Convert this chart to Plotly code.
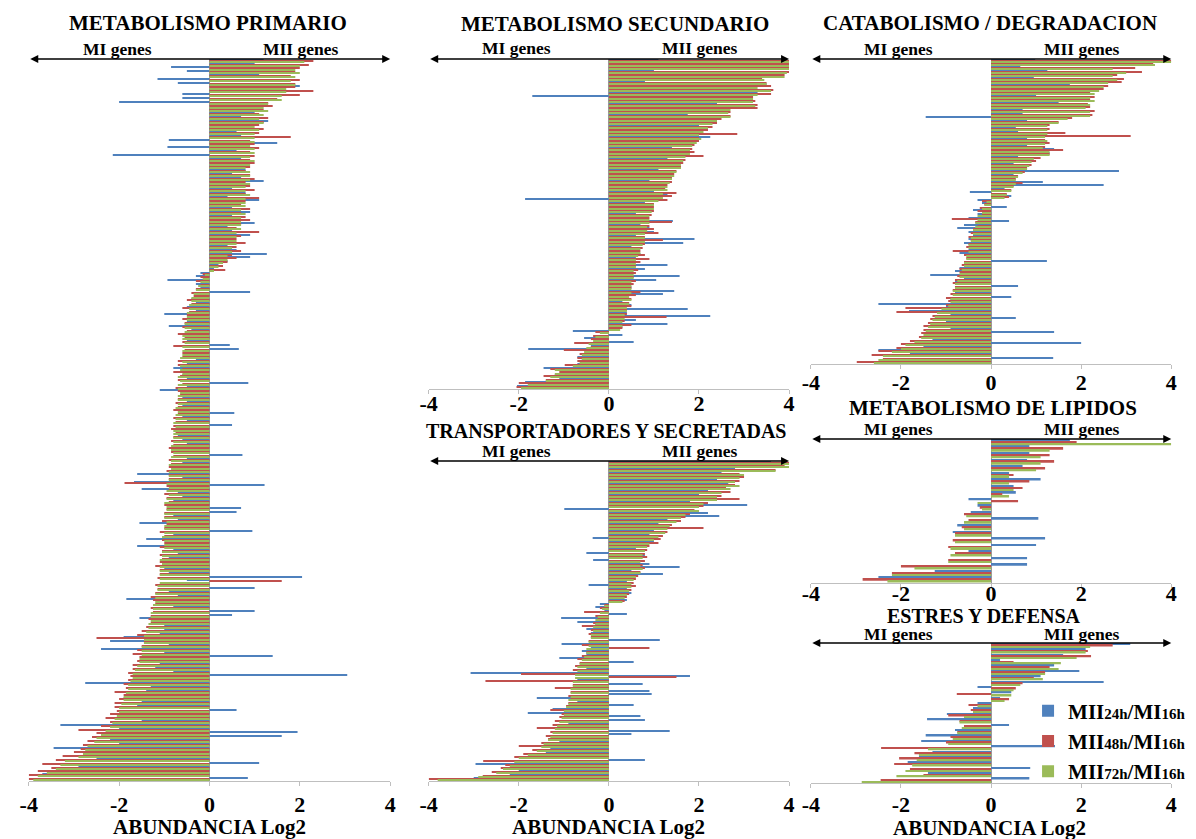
import plotly.graph_objects as go

W, H = 1196, 839
FONT = "Liberation Serif"
BLUE, RED, GREEN = "#4F81BD", "#C0504D", "#9BBB59"

SERIES = [
    "MII<span style='font-size:15px'>24h</span>/MI<span style='font-size:15px'>16h</span>",
    "MII<span style='font-size:15px'>48h</span>/MI<span style='font-size:15px'>16h</span>",
    "MII<span style='font-size:15px'>72h</span>/MI<span style='font-size:15px'>16h</span>",
]
TICK_VALS = [-4, -2, 0, 2, 4]
TICK_TEXT = ["-4", "-2", "0", "2", "4"]
AXIS_TITLE = "ABUNDANCIA Log2"
LEFT_LABEL, RIGHT_LABEL = "MI genes", "MII genes"

# ---------------- METABOLISMO PRIMARIO ----------------
prim_blue = [1.2, 1.0, -0.85, -0.5, 1.1, -1.15, -0.7, 2.0, 1.4, -0.6,
             -0.6, -2.0, 0.9, 0.8, 1.0, 0.7, 1.3, 0.8, 0.9, 0.6,
             0.7, -0.9, 1.5, -0.93, 0.6, -2.14, 0.7, 0.5, 0.6, 0.8,
             0.5, 0.7, 1.2, 0.6, 0.5, 0.8, 0.4, 1.1, 0.6, 0.5,
             0.9, 0.5, 0.6, 1.0, 0.4, 0.5, 0.9, 0.3, 0.5, 0.4,
             0.6, 1.27, 0.9, 0.4, 0.2, 0.1, -0.2, -0.3, -0.93, -0.3,
             -0.2, 0.9, -0.3, -0.4, -0.3, -0.5, -0.3, -1.0, -0.4, -0.5,
             -0.9, -0.4, -0.5, -0.3, -0.5, 0.45, 0.65, -0.4, -0.5, -0.3,
             -0.5, -0.8, -0.4, -0.6, -0.5, 0.86, -0.5, -1.1, -0.4, -0.6,
             -0.5, -0.6, -0.4, 0.55, -0.6, -0.5, 0.5, -0.6, -0.5, -0.7,
             -0.6, -0.5, -0.7, -0.6, 0.73, -0.5, -0.6, -0.7, -0.5, -1.6,
             -0.6, -1.67, 1.22, -1.5, -0.7, -0.6, -0.8, -0.7, 0.7, 0.6,
             -0.8, -0.7, -1.55, -0.6, 0.95, -0.8, -1.4, -0.7, -1.6, -0.8,
             -0.7, -0.9, -0.8, -0.6, -1.0, -0.9, 2.05, -0.5, -0.8, 1.0,
             -0.9, -0.7, -1.84, -1.0, -0.8, 1.0, 0.5, -1.55, -0.9, -1.0,
             -1.0, -1.1, -1.9, -2.2, -0.9, -2.4, -1.0, 1.4, -0.9, -1.1,
             -1.2, -0.8, 3.05, -1.4, -2.75, -1.3, -1.4, -1.6, -1.9, -1.5,
             -1.6, 0.6, -1.7, -1.8, -1.5, -3.3, -2.0, 1.95, 1.6, -2.2,
             -2.0, -3.45, -2.1, -1.8, -2.5, 1.1, -2.9, -1.7, -3.7, 0.85]
prim_red = [2.3, 2.2, 2.0, 1.9, 1.8, 2.0, 1.9, 1.9, 2.3, 2.0,
            1.5, 1.3, 1.4, 1.2, 1.1, 1.3, 1.2, 1.1, 1.2, 1.1,
            1.8, 0.9, 1.0, 1.1, 0.9, 1.0, 0.9, 1.0, 0.9, 0.8,
            0.9, 1.0, 0.8, 0.9, 1.0, 0.8, 1.1, 0.8, 0.7, 0.9,
            0.7, 0.8, 0.9, 0.7, 0.6, 1.1, 0.7, 0.6, 0.8, 0.6,
            0.7, 0.5, 0.6, 0.4, 0.3, 0.35, -0.15, -0.2, -0.3, -0.2,
            -0.3, -0.4, -0.35, -0.5, -0.4, -0.6, -0.45, -0.5, -0.6, -0.55,
            -0.6, -0.5, -0.7, -0.55, -0.6, -0.8, -0.55, -0.6, -0.6, -0.7,
            -0.7, -0.6, -0.8, -0.65, -0.7, -0.6, -0.75, -0.7, -0.65, -0.7,
            -0.75, -0.7, -0.8, -0.7, -0.8, -0.75, -0.8, -0.85, -0.75, -0.8,
            -0.85, -0.8, -0.9, -0.85, -0.8, -0.9, -0.85, -0.9, -0.95, -0.9,
            -0.9, -1.88, -0.95, -0.9, -1.0, -0.95, -0.9, -1.0, -0.95, -1.0,
            -1.0, -1.05, -0.95, -1.0, -1.1, -1.0, -1.05, -1.0, -1.1, -1.05,
            -1.1, -1.05, -1.1, -1.2, -1.1, -1.1, -1.15, 1.6, -1.2, -1.15,
            -1.2, -1.3, -1.25, -1.2, -1.3, -1.25, -1.3, -1.35, -1.3, -1.4,
            -1.5, -1.6, -2.5, -1.45, -1.5, -1.6, -1.7, -1.55, -1.6, -1.7,
            -1.7, -1.8, -1.75, -1.8, -1.9, -1.85, -2.1, -1.9, -2.0, -2.1,
            -2.1, -2.05, -2.2, -2.3, -2.2, -2.4, -2.9, -2.5, -2.6, -2.7,
            -2.8, -2.85, -3.0, -3.25, -3.4, -3.7, -3.5, -3.8, -4.0, -4.0]
prim_green = [2.1, 2.0, 1.9, 2.0, 1.9, 1.8, 1.9, 1.7, 1.7, 1.6,
              1.6, 1.3, 1.2, 1.3, 1.2, 1.1, 1.2, 1.0, 1.1, 1.0,
              1.0, 1.0, 0.9, 1.0, 1.0, 0.9, 1.0, 0.9, 0.8, 0.9,
              0.9, 0.9, 0.9, 0.8, 0.8, 0.9, 0.8, 0.8, 0.8, 0.7,
              0.8, 0.7, 0.7, 0.7, 0.7, 0.6, 0.6, 0.6, 0.6, 0.5,
              0.5, 0.4, 0.4, 0.3, 0.2, 0.1, -0.1, -0.15, -0.2, -0.25,
              -0.3, -0.35, -0.4, -0.4, -0.45, -0.45, -0.5, -0.5, -0.5, -0.55,
              -0.55, -0.55, -0.6, -0.6, -0.55, -0.6, -0.6, -0.6, -0.65, -0.6,
              -0.65, -0.65, -0.6, -0.7, -0.65, -0.7, -0.7, -0.65, -0.7, -0.7,
              -0.7, -0.75, -0.7, -0.75, -0.75, -0.8, -0.75, -0.8, -0.8, -0.8,
              -0.8, -0.85, -0.85, -0.8, -0.85, -0.85, -0.9, -0.85, -0.9, -0.9,
              -0.9, -0.95, -0.9, -0.95, -0.9, -0.95, -1.0, -0.95, -0.95, -1.0,
              -1.0, -0.95, -1.0, -1.0, -1.0, -1.05, -1.0, -1.0, -1.0, -1.05,
              -1.05, -1.1, -1.05, -1.1, -1.1, -1.1, -1.1, -1.1, -1.15, -1.15,
              -1.2, -1.2, -1.2, -1.25, -1.25, -1.3, -1.3, -1.3, -1.35, -1.35,
              -1.4, -1.45, -1.45, -1.45, -1.5, -1.5, -1.5, -1.55, -1.55, -1.6,
              -1.65, -1.7, -1.7, -1.75, -1.8, -1.8, -1.85, -1.9, -1.9, -1.95,
              -2.0, -2.0, -2.05, -2.1, -2.15, -2.2, -2.3, -2.4, -2.5, -2.55,
              -2.7, -2.75, -2.8, -2.9, -3.2, -3.3, -3.4, -3.6, -3.8, -3.9]

# ---------------- METABOLISMO SECUNDARIO ----------------
sec_blue = [1.1, 3.8, 4.0, 1.0, 1.0, 2.9, 0.8, 3.5, 2.8, 3.3,
            -1.7, 2.1, 2.4, 2.3, 1.5, 1.75, 1.9, 1.6, 2.0, 1.5,
            1.9, 2.25, 1.4, 1.3, 1.4, 1.2, 1.3, 1.3, 1.2, 1.2,
            1.1, 1.0, 1.2, 0.9, 1.0, 1.1, 1.0, 1.3, -1.86, 0.8,
            0.8, 0.7, 0.6, 0.35, 1.42, 0.7, 0.9, 1.0, 0.6, 1.9,
            1.65, 0.5, 0.6, 0.7, 0.6, 0.5, 1.3, 0.8, 0.5, 1.57,
            1.05, 0.4, 0.5, 1.45, 1.2, 0.4, 0.3, 0.5, 1.75, 0.4,
            2.25, 0.6, 1.3, 0.3, -0.8, 0.3, -0.55, 0.55, -0.4, -1.79,
            -0.5, -0.7, -0.6, -0.7, -1.45, -0.9, -1.2, -1.1, -1.86, -2.04]
sec_red = [4.0, 4.0, 4.0, 4.0, 3.9, 3.4, 3.5, 3.6, 3.65, 3.6,
           3.2, 3.25, 3.3, 3.3, 2.7, 2.7, 2.5, 2.4, 2.3, 2.2,
           2.85, 2.0, 2.0, 1.9, 1.85, 1.9, 2.1, 1.7, 1.65, 1.6,
           1.5, 1.45, 1.4, 1.4, 1.3, 1.25, 1.5, 1.4, 1.3, 1.0,
           1.0, 1.0, 0.95, 0.9, 1.4, 0.9, 1.0, 1.1, 0.8, 1.2,
           0.8, 0.75, 0.7, 0.8, 0.9, 0.7, 0.6, 0.65, 0.6, 0.55,
           0.6, 0.55, 0.5, 0.7, 0.6, 0.5, 0.45, 0.5, 0.4, 0.4,
           1.28, 0.35, 0.5, 0.3, -0.3, -0.35, -0.4, -0.77, -0.4, -1.0,
           -0.65, -0.7, -0.7, -0.98, -1.3, -1.1, -1.45, -1.4, -2.0, -2.05]
sec_green = [4.0, 4.0, 4.0, 3.95, 3.9, 3.45, 3.5, 3.3, 3.6, 3.3,
             3.2, 3.2, 3.25, 2.7, 2.65, 2.7, 2.4, 2.3, 2.2, 2.1,
             2.0, 2.05, 1.95, 1.85, 1.8, 1.8, 1.7, 1.65, 1.6, 1.6,
             1.5, 1.45, 1.4, 1.35, 1.3, 1.3, 1.2, 1.2, 1.1, 1.0,
             1.0, 0.95, 0.9, 0.9, 0.9, 0.85, 0.85, 0.8, 0.8, 0.8,
             0.75, 0.7, 0.7, 0.65, 0.6, 0.6, 0.6, 0.55, 0.55, 0.55,
             0.5, 0.5, 0.5, 0.5, 0.45, 0.5, 0.45, 0.4, 0.4, 0.35,
             0.35, 0.3, 0.3, 0.25, -0.2, -0.3, -0.35, -0.45, -0.5, -0.55,
             -0.6, -0.6, -0.65, -0.8, -1.2, -1.2, -1.3, -1.4, -1.8, -1.95]

# ---------------- TRANSPORTADORES Y SECRETADAS ----------------
tra_blue = [3.6, 3.1, 2.8, 2.5, 2.7, 2.4, 2.65, 2.3, 2.2, 2.0,
            2.0, 1.8, 3.07, -0.99, 2.2, 2.45, 1.3, 1.1, 1.2, 1.0,
            0.9, -0.36, 1.0, 0.7, 0.6, -0.5, 0.8, -0.35, 0.9, 1.57,
            0.5, 1.2, 0.5, 0.4, -0.45, 0.4, 0.5, 0.3, 0.4,
            -0.2, -0.3, -0.1, 0.4, -1.06, -0.7, -0.3, -0.5, -0.4, -0.3,
            1.13, -1.05, -0.4, -0.6, -0.5, -1.1, 0.55, -0.6, -0.5, -3.07,
            1.8, -0.7, 0.75, -0.6, 0.9, 0.95, -1.6, -0.7, 0.55, -1.25,
            -1.8, 0.7, 0.8, -0.9, -1.0, 1.35, 0.5, -1.0, -1.1, -1.2,
            -1.3, -1.4, -1.6, 0.8, -2.96, -1.9, -2.0, -2.2, -3.0]
tra_red = [4.0, 3.9, 3.7, 2.9, 3.0, 2.9, 2.8, 2.6, 2.7, 2.5,
           2.9, 2.2, 2.1, 1.9, 1.8, 1.7, 1.6, 1.4, 2.1, 1.3,
           1.2, 1.15, 1.1, 0.9, 0.85, 0.8, 0.85, 0.8, 0.75, 0.8,
           0.7, 0.65, 0.6, 0.55, 0.6, 0.5, 0.45, 0.4, 0.35,
           -0.1, -0.2, -0.55, -0.3, -0.25, -0.35, -0.6, -0.4, -0.45, -0.4,
           -0.45, -0.6, 0.9, -0.5, -0.6, -0.7, -0.65, -0.75, -0.8, -1.95,
           1.5, -2.74, -0.8, -1.2, -0.85, -0.9, -0.85, -0.9, -0.95, -1.3,
           -1.05, -1.1, -1.2, -1.25, -1.6, -1.3, -1.4, -1.35, -1.5, -2.0,
           -1.7, -1.9, -2.1, -2.79, -2.3, -2.4, -2.6, -2.8, -4.0]
tra_green = [4.0, 4.0, 3.7, 3.0, 2.9, 2.8, 2.9, 2.7, 2.5, 2.4,
             2.4, 2.1, 2.0, 2.0, 1.7, 1.6, 1.5, 1.35, 1.3, 1.25,
             1.1, 1.0, 0.9, 0.85, 0.8, 0.75, 0.75, 0.7, 0.7, 0.75,
             0.7, 0.6, 0.55, 0.5, 0.5, 0.45, 0.4, 0.35, 0.3,
             -0.1, -0.15, -0.2, -0.25, -0.3, -0.3, -0.35, -0.35, -0.4, -0.4,
             -0.45, -0.45, -0.5, -0.5, -0.55, -0.6, -0.65, -0.7, -0.7, -0.75,
             -0.75, -0.8, -0.8, -0.85, -0.85, -0.85, -0.9, -0.9, -0.95, -1.0,
             -1.0, -1.05, -1.1, -1.15, -1.2, -1.25, -1.3, -1.35, -1.45, -1.5,
             -1.6, -1.8, -2.0, -2.1, -2.2, -2.35, -2.5, -2.9, -3.8]

# ---------------- CATABOLISMO / DEGRADACION ----------------
cat_blue = [0.98, 3.1, 0.65, 1.25, 2.75, 0.95, 1.3, 1.75, 2.0, 1.2,
            1.0, 0.8, 1.5, 0.6, 0.7, 0.7, -1.45, 0.8, 1.0, 0.55,
            0.6, 0.9, 0.8, 0.4, 0.8, 1.4, 1.3, 0.6, 0.5, 0.5,
            0.7, 2.84, 0.5, 0.4, 1.15, 2.5, 0.3, -0.47, 0.45,
            -0.3, -0.2, 0.35, -0.4, -0.3, -0.5, 0.4, -0.6, -0.75, -0.5,
            -0.4, -0.5, -0.6, -0.4, -0.5, -0.7, -0.3, 1.24, -0.6, -0.7,
            -0.8, -1.35, -0.6, -0.8, 0.6, -0.7, -0.8, 0.45, -0.9, -2.5,
            -1.0, -1.82, -0.9, 0.55, -1.0, -1.2, -0.9, 1.4, -1.2, -1.3,
            2.0, -1.5, -2.5, -1.8, 1.38, -2.2]
cat_red = [4.0, 3.6, 3.2, 3.35, 2.8, 2.95, 2.9, 2.6, 2.5, 2.2,
           2.3, 2.2, 2.15, 2.2, 2.3, 2.25, 1.8, 1.5, 1.3, 1.3,
           1.65, 3.1, 1.2, 1.3, 1.2, 1.6, 1.3, 1.1, 1.0, 0.9,
           0.8, 0.75, 0.6, 0.55, 0.7, 0.5, 0.45, 0.35, 0.4,
           -0.2, -0.15, -0.25, -0.3, -0.2, -0.87, -0.35, -0.3, -0.4, -0.45,
           -0.5, -0.45, -0.5, -0.55, -0.85, -0.6, -0.55, -0.6, -0.65, -0.7,
           -0.7, -0.75, -0.8, -0.85, -0.8, -0.85, -0.9, -1.0, -0.95, -1.0,
           -1.9, -2.1, -1.3, -1.35, -1.4, -1.5, -1.5, -1.55, -1.6, -1.8,
           -2.0, -2.1, -2.5, -2.65, -2.4, -2.98]
cat_green = [4.0, 3.64, 2.7, 3.0, 2.7, 2.8, 2.6, 2.5, 2.4, 2.3,
             2.2, 2.3, 2.2, 2.1, 2.2, 2.2, 1.7, 1.5, 1.25, 1.25,
             1.25, 1.2, 1.25, 1.2, 1.15, 1.3, 1.3, 0.95, 0.9, 0.85,
             0.8, 0.7, 0.6, 0.55, 0.55, 0.5, 0.45, 0.35, 0.3,
             -0.1, -0.15, -0.2, -0.2, -0.3, -0.3, -0.35, -0.35, -0.4, -0.4,
             -0.45, -0.45, -0.5, -0.5, -0.5, -0.55, -0.55, -0.6, -0.6, -0.65,
             -0.7, -0.7, -0.75, -0.8, -0.8, -0.85, -0.85, -0.9, -0.9, -0.95,
             -1.1, -1.2, -1.25, -1.3, -1.35, -1.4, -1.45, -1.5, -1.55, -1.7,
             -1.9, -2.0, -2.2, -2.4, -2.5, -2.6]

# ---------------- METABOLISMO DE LIPIDOS ----------------
lip_blue = [1.75, 0.85, 0.85, 0.8, 0.7, 0.4, 1.1, 0.5, 0.55, -0.5, -0.3,
            -0.45, 1.05, -0.75, -0.85, 1.2, 1.0, -0.5, 0.8, 0.8, -1.25, -2.5]
lip_red = [1.9, 1.6, 1.3, 1.4, 1.2, 0.5, 0.85, 0.7, 0.25, 0.6, -0.25,
           -0.6, -0.5, -0.65, -0.8, -0.85, -0.95, -0.8, -0.95, -2.0, -2.2, -2.85]
lip_green = [4.0, 1.3, 1.1, 1.1, 1.0, 0.4, 0.4, 0.5, 0.4, -0.3, -0.2,
             -0.55, -0.6, -0.6, -0.8, -0.8, -0.9, -0.9, -0.95, -1.7, -2.2, -2.3]

# ---------------- ESTRES Y DEFENSA ----------------
est_blue = [3.09, 2.1, 1.6, 0.2, 1.4, 1.96, 1.1, 2.5, -0.3, 0.45, 0.2, -0.3, -0.4,
            -0.98, -1.42, 0.4, -0.8, -1.45, -1.55, 1.42, -1.3, -1.6, -1.85, 0.87, -1.4, 0.85]
est_red = [2.7, 2.15, 2.22, 0.5, 1.3, 1.2, 0.95, 0.7, 0.55, -0.76, 0.4, -0.5, -0.45,
           -0.95, -0.7, -0.6, -0.75, -0.9, -1.0, -2.44, -1.7, -2.04, -2.15, -1.8, -1.5, -2.45]
est_green = [2.2, 2.1, 1.9, 1.55, 1.5, 1.2, 1.15, 0.65, 0.5, 0.45, 0.3, -0.3, -0.4,
             -0.6, -0.7, -0.65, -0.75, -0.85, -0.95, -1.4, -1.6, -1.65, -1.75, -1.9, -2.1, -2.87]

# ---------------- layout configuration (pixels) ----------------
panels = [
    dict(title="METABOLISMO PRIMARIO", data=(prim_blue, prim_red, prim_green), tsize=21,
         x0=20, x1=386, top=59, bottom=781, title_xy=(202, 23), lab_y=49, lab_x=(110, 296), standoff=0),
    dict(title="METABOLISMO SECUNDARIO", data=(sec_blue, sec_red, sec_green), tsize=21,
         x0=425, x1=790, top=59, bottom=389, title_xy=(614, 24), lab_y=48, lab_x=(514, 700), standoff=-9),
    dict(title="TRANSPORTADORES Y SECRETADAS", data=(tra_blue, tra_red, tra_green), tsize=20,
         x0=425, x1=790, top=461, bottom=781, title_xy=(605, 431), lab_y=451, lab_x=(514, 700), standoff=0),
    dict(title="CATABOLISMO / DEGRADACION", data=(cat_blue, cat_red, cat_green), tsize=21,
         x0=812, x1=1177, top=59, bottom=364, title_xy=(993, 23), lab_y=49, lab_x=(901, 1087), standoff=-5),
    dict(title="METABOLISMO DE LIPIDOS", data=(lip_blue, lip_red, lip_green), tsize=21,
         x0=812, x1=1177, top=439, bottom=583, title_xy=(996, 408), lab_y=429, lab_x=(901, 1087), standoff=-13),
    dict(title="ESTRES Y DEFENSA", data=(est_blue, est_red, est_green), tsize=20,
         x0=812, x1=1177, top=643, bottom=783, title_xy=(987, 616), lab_y=634, lab_x=(901, 1087), standoff=-2),
]
axis_titles_xy = [(203, 827), (607, 827), (993, 828)]
colors = [BLUE, RED, GREEN]


def px(x):
    return x / W


def py(y):
    return 1 - y / H


fig = go.Figure()
annotations = []
layout_axes = {}

for k, p in enumerate(panels, start=1):
    sfx = "" if k == 1 else str(k)
    xa, ya = "x" + sfx, "y" + sfx
    n = len(p["data"][0])
    genes = [f"{k}-{j:03d}" for j in range(n)]
    for s, (vals, col) in enumerate(zip(p["data"], colors)):
        fig.add_trace(go.Bar(
            x=vals, y=genes, orientation="h", xaxis=xa, yaxis=ya,
            marker=dict(color=col, line=dict(width=0)),
            name=SERIES[s], legendgroup=f"s{s}",
            showlegend=(k == 6), hoverinfo="x",
        ))
    layout_axes["xaxis" + sfx] = dict(
        domain=[px(p["x0"]), px(p["x1"])], range=[-4, 4], anchor=ya,
        tickvals=TICK_VALS, ticktext=TICK_TEXT,
        tickfont=dict(family=FONT, size=22, color="black", weight="bold"),
        ticklabelstandoff=p["standoff"],
        showline=True, linecolor="#BFBFBF", linewidth=1,
        ticks="outside", ticklen=4, tickcolor="#BFBFBF",
        zeroline=True, zerolinecolor="#9A9A9A", zerolinewidth=1,
        showgrid=False, fixedrange=True,
    )
    layout_axes["yaxis" + sfx] = dict(
        domain=[py(p["bottom"]), py(p["top"])], anchor=xa, type="category",
        autorange="reversed", showticklabels=False, showgrid=False,
        zeroline=False, showline=False, ticks="", fixedrange=True,
    )
    # double headed arrow on top
    annotations.append(dict(
        x=4, y=1, xref=xa, yref=ya + " domain", ax=-4, ay=1, axref=xa, ayref=ya + " domain",
        text="", showarrow=True, arrowhead=2, arrowside="end+start", arrowsize=1,
        arrowwidth=1.6, arrowcolor="black", standoff=0, startstandoff=0,
    ))
    tx, ty = p["title_xy"]
    annotations.append(dict(text=f"<b>{p['title']}</b>", x=px(tx), y=py(ty), xref="paper", yref="paper",
                            showarrow=False, xanchor="center", yanchor="middle",
                            font=dict(family=FONT, size=p["tsize"], color="black")))
    for lbl, lx in zip((LEFT_LABEL, RIGHT_LABEL), p["lab_x"]):
        annotations.append(dict(text=f"<b>{lbl}</b>", x=px(lx), y=py(p["lab_y"]), xref="paper", yref="paper",
                                showarrow=False, xanchor="center", yanchor="middle",
                                font=dict(family=FONT, size=17.5, color="black")))

for ax_x, ax_y in axis_titles_xy:
    annotations.append(dict(text=f"<b>{AXIS_TITLE}</b>", x=px(ax_x), y=py(ax_y), xref="paper", yref="paper",
                            showarrow=False, xanchor="center", yanchor="middle",
                            font=dict(family=FONT, size=21, color="black")))

fig.update_layout(
    width=W, height=H, margin=dict(l=0, r=0, t=0, b=0),
    paper_bgcolor="white", plot_bgcolor="white",
    barmode="group", bargap=0.12, bargroupgap=0.0,
    annotations=annotations,
    legend=dict(x=px(1032), y=py(741), xanchor="left", yanchor="middle",
                font=dict(family=FONT, size=21, color="black", weight="bold"),
                bgcolor="rgba(255,255,255,0)", itemwidth=30, tracegroupgap=0,
                traceorder="normal"),
    showlegend=True,
    **layout_axes,
)

fig.write_html("out.html")
